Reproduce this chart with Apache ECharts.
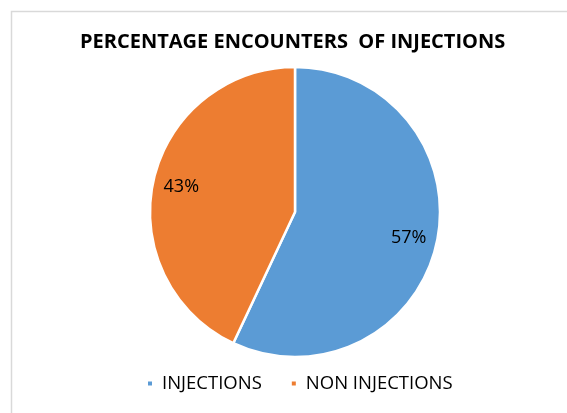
<!DOCTYPE html>
<html lang="en">
	<head>
		<meta charset="UTF-8">
		<script src="https://cdn.jsdelivr.net/npm/echarts@6/dist/echarts.min.js" type="text/javascript" charset="utf-8"></script>
		<title>Percentage encounters of injections</title>
		<style>
			html, body { margin: 0; padding: 0; background: #fff; }
		</style>
	</head>
	<body>
		<div id="main" style="width: 567px; height: 413px;"></div>

		<script type="text/javascript">
			// data
			var categories = ['INJECTIONS', 'NON INJECTIONS'];
			var percentValues = [57, 43];
			var sliceColors = ['#5B9BD5', '#ED7D31'];

			var pieData = categories.map(function(name, i) {
				return { name: name, value: percentValues[i], itemStyle: { color: sliceColors[i] } };
			});

			var myChart = echarts.init(document.getElementById('main'), null, { renderer: 'canvas' });
			var fontFamily = '"Open Sans", "Noto Sans", sans-serif';

			var option = {
				animation: false,
				backgroundColor: '#fff',
				title: {
					text: 'PERCENTAGE ENCOUNTERS  OF INJECTIONS',
					left: 75,
					top: 27,
					textStyle: {
						fontFamily: fontFamily,
						fontWeight: 'bold',
						fontSize: 20,
						color: '#000'
					}
				},
				legend: {
					data: categories,
					top: 369,
					left: 141,
					icon: 'rect',
					itemWidth: 6,
					itemHeight: 6,
					itemGap: 28,
					textStyle: {
						fontFamily: fontFamily,
						fontSize: 18.5,
						color: '#000',
						padding: [0, 0, 0, 4]
					}
				},
				// light frame of the chart area
				graphic: [{
					type: 'rect',
					shape: { x: 11.5, y: 11.5, width: 620, height: 460 },
					style: { fill: 'none', stroke: '#d9d9d9', lineWidth: 1.5 },
					silent: true
				}],
				series: [{
					type: 'pie',
					center: [295, 212],
					radius: [0, 145],
					startAngle: 90,
					clockwise: true,
					data: pieData,
					label: { show: false },
					labelLine: { show: false },
					itemStyle: { borderColor: '#fff', borderWidth: 2.5 },
					emphasis: { disabled: true }
				}, {
					// transparent ring only used to place the percent labels
					type: 'pie',
					center: [295, 212],
					radius: [82, 145],
					startAngle: 90,
					clockwise: true,
					silent: true,
					legendHoverLink: false,
					data: pieData.map(function(d) {
						return { name: d.name, value: d.value, itemStyle: { color: 'transparent' } };
					}),
					label: {
						show: true,
						position: 'inside',
						formatter: '{c}%',
						fontFamily: fontFamily,
						fontSize: 18,
						color: '#000'
					},
					labelLine: { show: false },
					emphasis: { disabled: true }
				}]
			};
			myChart.setOption(option);
		</script>
	</body>
</html>
